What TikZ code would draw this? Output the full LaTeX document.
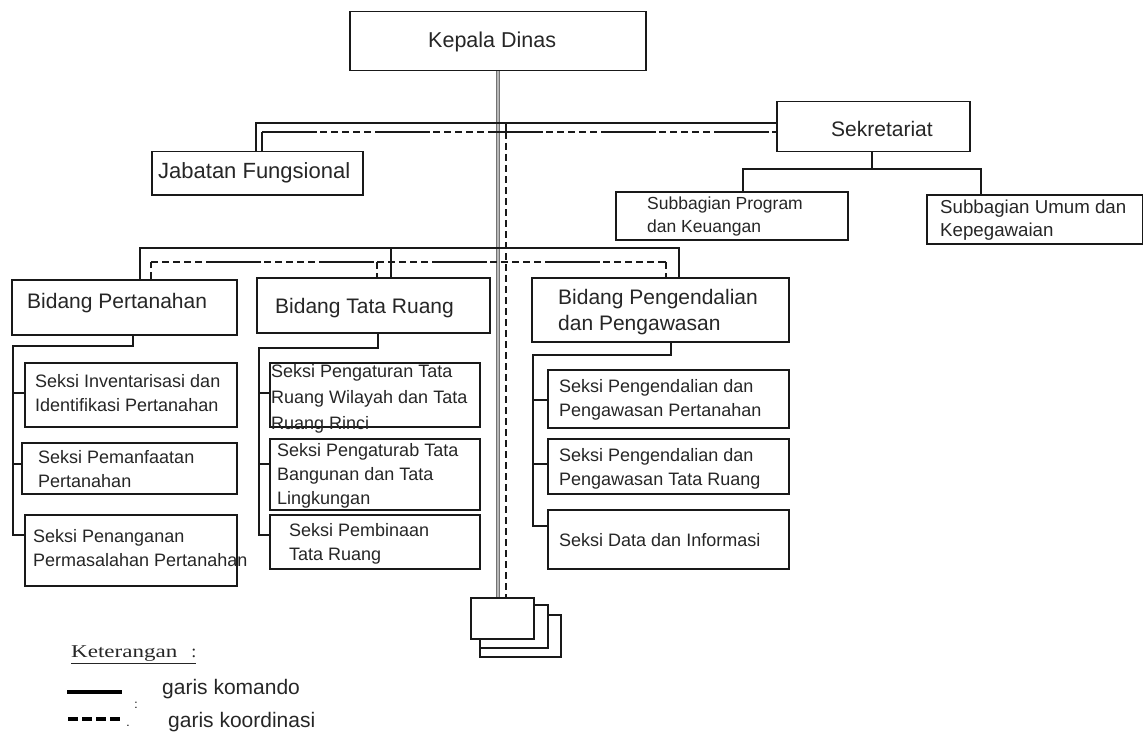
\documentclass[tikz,border=0pt]{standalone}
\usepackage{graphicx}
\usepackage{fontspec}
\setmainfont{Liberation Sans}
\newfontfamily\legserif{Liberation Serif}
\usetikzlibrary{calc}
\begin{document}
\begin{tikzpicture}[x=1pt,y=-1pt,
  box/.style={draw=black!90, line width=1.5pt, inner sep=0pt, anchor=north west, fill=white},
  lbl/.style={anchor=west, inner sep=0pt, align=left, text=black!85},
  big/.style={font=\fontsize{21}{26}\selectfont},
  mid/.style={font=\fontsize{17.5}{23}\selectfont},
  sml/.style={font=\fontsize{18}{24}\selectfont},
  cmd/.style={draw=black!90, line width=1.5pt},
  crd/.style={draw=black!90, line width=1.5pt, dash pattern=on 7pt off 4pt},
  mix/.style={draw=black!90, line width=1.5pt, dash pattern=on 55pt off 3pt on 7pt off 4pt on 7pt off 4pt on 7pt off 4pt on 7pt off 4pt on 7pt off 4pt},
  mainline/.style={line width=4.5pt, draw=black!55},
  mainlinein/.style={line width=2pt, draw=black!28}
]
\useasboundingbox (0,0) rectangle (1143,733);

% ---- boxes ----
\node[box, minimum width=296pt, minimum height=59pt] (kd) at (349,11) {};
\node[lbl, font=\fontsize{21.5}{26}\selectfont] (kdt) at (428,42) {Kepala Dinas};

\node[box, minimum width=211pt, minimum height=43pt] (jf) at (151,151) {};
\node[lbl, font=\fontsize{22}{26}\selectfont] (jft) at (158,173) {Jabatan Fungsional};

\node[box, minimum width=193pt, minimum height=50pt] (sek) at (776,101) {};
\node[lbl, big] (sekt) at (831,129) {Sekretariat};

\node[box, minimum width=232pt, minimum height=48pt] (sp) at (615,191) {};
\node[lbl, mid] (spt) at (647,216.5) {Subbagian Program\\dan Keuangan};

\node[box, minimum width=216pt, minimum height=49pt] (su) at (926,194) {};
\node[lbl, font=\fontsize{18.7}{23}\selectfont] (sut) at (940,220) {Subbagian Umum dan\\Kepegawaian};

\node[box, minimum width=225pt, minimum height=55pt] (bp) at (11,279) {};
\node[lbl, big] (bpt) at (27,303) {Bidang Pertanahan};

\node[box, minimum width=233pt, minimum height=55pt] (btr) at (256,277) {};
\node[lbl, big] (btrt) at (275,308) {Bidang Tata Ruang};

\node[box, minimum width=257pt, minimum height=64pt] (bpp) at (531,277) {};
\node[lbl, big] (bppt) at (558,312) {Bidang Pengendalian\\dan Pengawasan};

\node[box, minimum width=212pt, minimum height=64pt] (s1) at (24,362) {};
\node[lbl, sml] (s1t) at (35,393.5) {Seksi Inventarisasi dan\\Identifikasi Pertanahan};
\node[box, minimum width=215pt, minimum height=51pt] (s2) at (21,442) {};
\node[lbl, sml] (s2t) at (38,469) {Seksi Pemanfaatan\\Pertanahan};
\node[box, minimum width=212pt, minimum height=71pt] (s3) at (24,514) {};
\node[lbl, sml] (s3t) at (33,548) {Seksi Penanganan\\Permasalahan Pertanahan};

\node[box, minimum width=210pt, minimum height=64pt] (t1) at (269,362) {};
\node[lbl, font=\fontsize{18}{26}\selectfont] (t1t) at (271,399) {Seksi Pengaturan Tata\\Ruang Wilayah dan Tata\\Ruang Rinci};
\node[box, minimum width=210pt, minimum height=71pt] (t2) at (269,438) {};
\node[lbl, sml] (t2t) at (277,476) {Seksi Pengaturab Tata\\Bangunan dan Tata\\Lingkungan};
\node[box, minimum width=210pt, minimum height=54pt] (t3) at (269,514) {};
\node[lbl, sml] (t3t) at (289,544) {Seksi Pembinaan\\Tata Ruang};

\node[box, minimum width=241pt, minimum height=58pt] (p1) at (547,369) {};
\node[lbl, sml] (p1t) at (559,399.5) {Seksi Pengendalian dan\\Pengawasan Pertanahan};
\node[box, minimum width=241pt, minimum height=55pt] (p2) at (547,438) {};
\node[lbl, sml] (p2t) at (559,468.5) {Seksi Pengendalian dan\\Pengawasan Tata Ruang};
\node[box, minimum width=241pt, minimum height=59pt] (p3) at (547,509) {};
\node[lbl, sml] (p3t) at (559,540) {Seksi Data dan Informasi};

\node[box, minimum width=81pt, minimum height=42pt] (st3) at (479,614) {};
\node[box, minimum width=68pt, minimum height=43pt] (st2) at (479,604) {};
\node[box, minimum width=63pt, minimum height=41pt] (st1) at (470,597) {};

% ---- coordinates ----
\coordinate (b1) at (256,123);
\coordinate (b2) at (262,132);
\coordinate (dv) at (506,132);
\coordinate (sbM) at (872,169);
\coordinate (sbL) at (743,169);
\coordinate (sbR) at (981,169);
\coordinate (c1L) at (140,248);
\coordinate (c1M) at (391,248);
\coordinate (c1R) at (679,248);
\coordinate (c2L) at (151,262);
\coordinate (c2M) at (377,262);
\coordinate (c2R) at (666,262);
\coordinate (d0) at (133,346);
\coordinate (d1) at (13,346);
\coordinate (dk1) at (13,393);
\coordinate (dk2) at (13,464);
\coordinate (dk3) at (13,535);
\coordinate (e0) at (378,348);
\coordinate (e1) at (259,348);
\coordinate (ek1) at (259,393);
\coordinate (ek2) at (259,464);
\coordinate (ek3) at (259,535);
\coordinate (f0) at (671,355);
\coordinate (f1) at (533,355);
\coordinate (fk1) at (533,400);
\coordinate (fk2) at (533,464);
\coordinate (fk3) at (533,526);

% ---- main vertical line ----
\draw[mainline] (kd.south) -- (kd.south |- st1.north);
\draw[mainlinein] (kd.south) -- (kd.south |- st1.north);

% ---- Jabatan / Sekretariat ----
\draw[cmd] (b1 |- jf.north) -- (b1) -- (b1 -| sek.west);
\draw[cmd] (b2 |- jf.north) -- (b2);
\draw[mix] (b2) -- (b2 -| sek.west);
\draw[cmd] (dv |- b1) -- (dv);
\draw[crd] (dv) -- (dv |- st1.north);

% ---- Sekretariat to subbagian ----
\draw[cmd] (sbM |- sek.south) -- (sbM);
\draw[cmd] (sbL |- sp.north) -- (sbL) -- (sbR) -- (sbR |- su.north);

% ---- Bidang bus ----
\draw[cmd] (c1L |- bp.north) -- (c1L) -- (c1R) -- (c1R |- bpp.north);
\draw[cmd] (c1M) -- (c1M |- btr.north);
\draw[crd] (c2L |- bp.north) -- (c2L);
\draw[mix, dash phase=58pt] (c2L) -- (c2R);
\draw[crd] (c2R) -- (c2R |- bpp.north);
\draw[crd] (c2M) -- (c2M |- btr.north);

% ---- Seksi Pertanahan ----
\draw[cmd] (d0 |- bp.south) -- (d0) -- (d1) -- (dk3) -- (dk3 -| s3.west);
\draw[cmd] (dk1) -- (dk1 -| s1.west);
\draw[cmd] (dk2) -- (dk2 -| s2.west);

% ---- Seksi Tata Ruang ----
\draw[cmd] (e0 |- btr.south) -- (e0) -- (e1) -- (ek3) -- (ek3 -| t3.west);
\draw[cmd] (ek1) -- (ek1 -| t1.west);
\draw[cmd] (ek2) -- (ek2 -| t2.west);

% ---- Seksi Pengendalian ----
\draw[cmd] (f0 |- bpp.south) -- (f0) -- (f1) -- (fk3) -- (fk3 -| p3.west);
\draw[cmd] (fk1) -- (fk1 -| p1.west);
\draw[cmd] (fk2) -- (fk2 -| p2.west);

% ---- Legend ----
\node[anchor=west, inner sep=0pt, text=black!85, font=\legserif\fontsize{18}{20}\selectfont] (ket) at (71,655) {\underline{\scalebox{1.28}[1]{Keterangan}\hspace{14pt}:}};
\coordinate (l1a) at (67,692);
\coordinate (l1b) at (122,692);
\coordinate (l2a) at (68,719);
\coordinate (l2b) at (123,719);
\draw[line width=4pt, black] (l1a) -- (l1b);
\draw[line width=4pt, black, dash pattern=on 10pt off 4pt] (l2a) -- (l2b);
\node[lbl, font=\fontsize{21}{24}\selectfont] (lk) at (162,689) {garis komando};
\node[lbl, font=\fontsize{21}{24}\selectfont] (lo) at (168,722) {garis koordinasi};
\node[inner sep=0pt, font=\fontsize{12}{14}\selectfont] (lc) at (136,705) {:};
\node[inner sep=0pt, font=\fontsize{12}{14}\selectfont] (ld) at (128,726) {.};
\end{tikzpicture}
\end{document}
